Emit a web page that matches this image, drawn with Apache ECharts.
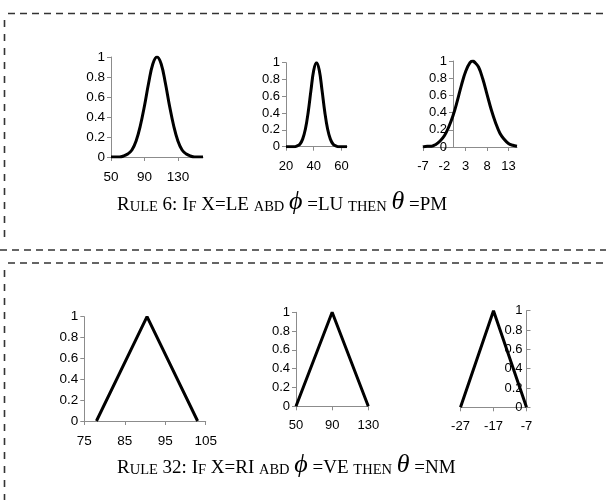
<!DOCTYPE html>
<html>
<head>
<meta charset="utf-8">
<script src="https://cdn.jsdelivr.net/npm/echarts@6/dist/echarts.min.js"></script>
<style>html,body{margin:0;padding:0;background:#fff}#c{width:606px;height:500px}</style>
</head>
<body>
<div id="c"></div>
<script>
// ---- data ----
const g1X = [50,55,60,65,70,75,80,85,90,95,100,105,110,115,120,125,130,135,140,145,150,155,160];
const g1Y = [0,0,0,0.01,0.03,0.07,0.16,0.31,0.51,0.74,0.93,1,0.93,0.74,0.51,0.31,0.16,0.07,0.03,0.01,0,0,0];
const g2X = [20,22,24,26,28,30,32,34,36,38,40,42,44,46,48,50,52,54,56,58,60,62,64];
const g2Y = [0,0,0,0,0.01,0.03,0.09,0.21,0.41,0.67,0.91,1,0.91,0.67,0.41,0.21,0.09,0.03,0.01,0,0,0,0];
const g3X = [-7,-6,-5,-4,-3,-2,-1,0,1,2,3,4,4.7,5,6,7,8,9,10,11,12,13,14,15];
const g3Y = [0,0.01,0.01,0.03,0.07,0.13,0.23,0.36,0.53,0.72,0.88,0.98,1,0.99,0.93,0.79,0.61,0.43,0.28,0.16,0.09,0.04,0.02,0.01];
const t1X = [78,90.5,103];
const t1Y = [0,1,0];
const t2X = [50,90,130];
const t2Y = [0,1,0];
const t3X = [-27,-17,-7];
const t3Y = [0,1,0];
const ticks1 = [50,90,130];
const ticks2 = [20,40,60];
const ticks3 = [-7,-2,3,8,13];
const ticks4 = [75,85,95,105];
const ticks5 = [50,90,130];
const ticks6 = [-27,-17,-7];

const grids = [
  {left:111, top:57,    width:92,  height:100},
  {left:286, top:62.7,  width:61,  height:84},
  {left:423, top:61,    width:94,  height:86},
  {left:84.3,top:316.7, width:121.4, height:104.3},
  {left:296, top:312.3, width:72.3, height:94},
  {left:460.5,top:310.7,width:66,  height:96.6}
];
const xRanges = [[50,160],[20,64],[-7,15],[75,105],[50,130],[-27,-7]];
const xTickSets = [ticks1,ticks2,ticks3,ticks4,ticks5,ticks6];
const fonts = [13.5,13,13,13.5,13,13];
const seriesX = [g1X,g2X,g3X,t1X,t2X,t3X];
const seriesY = [g1Y,g2Y,g3Y,t1Y,t2Y,t3Y];
const yOffsets = [0,0,-30,0,0,0];

const axisGray = '#8c8c8c';
const xAxes = [], yAxes = [], series = [];
for (let i = 0; i < 6; i++) {
  xAxes.push({
    type:'value', gridIndex:i, min:xRanges[i][0], max:xRanges[i][1],
    axisLine:{show:true, onZero:true, lineStyle:{color:axisGray, width:1}},
    axisTick:{show:true, length:4, customValues:xTickSets[i], lineStyle:{color:axisGray}},
    axisLabel:{show:true, customValues:xTickSets[i], margin:13, color:'#000',
      fontFamily:'Liberation Sans, Arial, sans-serif', fontSize:fonts[i]},
    splitLine:{show:false}
  });
  yAxes.push({
    type:'value', gridIndex:i, min:0, max:1, interval:0.2,
    position: i === 5 ? 'right' : 'left',
    offset: yOffsets[i],
    axisLine:{show:true, onZero:false, lineStyle:{color:axisGray, width:1}},
    axisTick:{show:true, length:4, lineStyle:{color:axisGray}},
    axisLabel:{show:true, margin: i === 5 ? 4 : 6, inside: i === 5, color:'#000',
      fontFamily:'Liberation Sans, Arial, sans-serif', fontSize:fonts[i],
      formatter: v => String(Math.round(v*10)/10)},
    splitLine:{show:false}
  });
  series.push({
    type:'line', xAxisIndex:i, yAxisIndex:i,
    data: seriesX[i].map((x, k) => [x, seriesY[i][k]]),
    smooth: i < 3 ? 0.4 : false,
    symbol:'none', silent:true, animation:false,
    lineStyle:{color:'#000', width:3}, z:5
  });
}

const dashC = '#333';
function hline(x1,x2,y){ return {type:'line', shape:{x1:x1,y1:y,x2:x2,y2:y}, style:{stroke:dashC, lineWidth:1.6, lineDash:[7,5]}}; }
function vline(x,y1,y2){ return {type:'line', shape:{x1:x,y1:y1,x2:x,y2:y2}, style:{stroke:dashC, lineWidth:1.6, lineDash:[7,7]}}; }

const serif = 'Liberation Serif, Times New Roman, serif';
const rich = {
  b:{fontSize:19, lineHeight:21.3, verticalAlign:'bottom', fontFamily:serif, color:'#000'},
  s:{fontSize:14.5, lineHeight:18.15, verticalAlign:'bottom', fontFamily:serif, color:'#000'},
  g:{fontSize:26, lineHeight:26.2, verticalAlign:'bottom', fontStyle:'italic', fontFamily:serif, color:'#000'}
};
const title1 = '{b|R}{s|ULE}{b| 6: I}{s|F}{b| X=LE }{s|ABD}{b| }{g|\u03d5}{b| =LU }{s|THEN}{b| }{g|\u03b8}{b| =PM}';
const title2 = '{b|R}{s|ULE}{b| 32: I}{s|F}{b| X=RI }{s|ABD}{b| }{g|\u03d5}{b| =VE }{s|THEN}{b| }{g|\u03b8}{b| =NM}';

const chart = echarts.init(document.getElementById('c'), null, {renderer:'canvas'});
chart.setOption({
  animation:false,
  backgroundColor:'#fff',
  grid: grids,
  xAxis: xAxes,
  yAxis: yAxes,
  series: series,
  graphic: [
    hline(8,606,13.5),
    vline(4.5,20,244),
    hline(0,606,250),
    hline(8,606,263),
    vline(4.5,270,500),
    {type:'text', left:117, top:189, style:{text:title1, rich:rich}},
    {type:'text', left:117, top:452, style:{text:title2, rich:rich}}
  ]
});
</script>
</body>
</html>
